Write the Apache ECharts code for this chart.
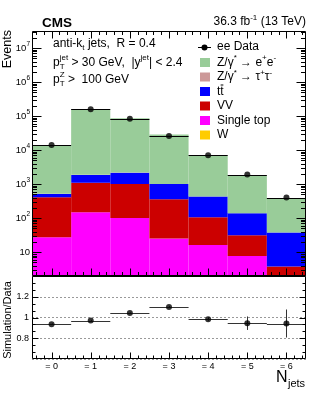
<!DOCTYPE html>
<html><head><meta charset="utf-8">
<script src="https://cdn.jsdelivr.net/npm/echarts@6/dist/echarts.min.js"></script>
<style>html,body{margin:0;padding:0;background:#fff}#c{width:316px;height:395px}</style>
</head><body><div id="c"></div>
<script>
// ---------------- data ----------------
const nJets = [0, 1, 2, 3, 4, 5, 6];
const xTickLabels = ['= 0', '= 1', '= 2', '= 3', '= 4', '= 5', '= 6'];
const dataEE = [14100, 159700, 83000, 26100, 7060, 1910, 404];
const zee = [12680, 153100, 84300, 27700, 6520, 1660, 342];
const ztautau = [5, 15, 12, 5, 2, 0.7, 0.2];
const ttbar = [103, 753, 1165, 650, 323, 108, 34];
const vv = [385, 957, 913, 335, 91, 23.8, 2.75];
const singleTop = [27, 149, 101, 25, 16, 7.7, 1.0];
const wjets = [0.3, 1.2, 1.0, 0.5, 0.2, 0.1, 0.05];
const ratio = [0.936, 0.971, 1.043, 1.101, 0.984, 0.945, 0.942];
const ratioErr = [0.006, 0.004, 0.005, 0.008, 0.015, 0.065, 0.135];

// ---------------- setup ----------------
const FONT = '"Liberation Sans", Arial, Helvetica, sans-serif';
const YMIN = 2, YMAX = Math.pow(10, 7.5);
const RMIN = 0.6, RMAX = 1.4;
const XMIN = -0.5, XMAX = 6.5;

const stackDefs = [
  {name: 'W', vals: wjets, color: '#ffcc00'},
  {name: 'Single top', vals: singleTop, color: '#ff00ff'},
  {name: 'VV', vals: vv, color: '#cc0000'},
  {name: 'ttbar', vals: ttbar, color: '#0000ff'},
  {name: 'Ztautau', vals: ztautau, color: '#cc9999'},
  {name: 'Zee', vals: zee, color: '#99cc99'}
];

const cum = nJets.map(() => 0);
const barSeries = stackDefs.map(def => {
  const d = nJets.map((x, i) => {
    const lo = cum[i];
    cum[i] += def.vals[i];
    return [x, lo, cum[i]];
  });
  return {
    type: 'custom', name: def.name, xAxisIndex: 0, yAxisIndex: 0, z: 2,
    itemStyle: {color: def.color},
    data: d, clip: true,
    renderItem: function (params, api) {
      const x = api.value(0);
      const lo = Math.max(api.value(1), YMIN);
      const hi = Math.min(api.value(2), YMAX);
      if (hi <= YMIN) return null;
      const p0 = api.coord([x - 0.5, lo]);
      const p1 = api.coord([x + 0.5, hi]);
      return {type: 'rect', shape: {x: p0[0], y: p1[1], width: p1[0] - p0[0], height: p0[1] - p1[1]},
        style: {fill: api.visual('color')}};
    }
  };
});

function hBarRender(params, api) {
  const x = api.value(0), y = api.value(1);
  const a = api.coord([x - 0.5, y]), b = api.coord([x + 0.5, y]);
  const py = Math.round(a[1]) + 0.5;
  return {type: 'line', shape: {x1: a[0], y1: py, x2: b[0], y2: py}, style: {stroke: '#000', lineWidth: 1}};
}

function errRender(params, api) {
  const x = api.value(0), y = api.value(1), e = api.value(2);
  const a = api.coord([x - 0.5, y]), b = api.coord([x + 0.5, y]);
  const t = api.coord([x, y + e]), bt = api.coord([x, y - e]);
  const py = Math.round(a[1]) + 0.5, px = Math.round(t[0]) + 0.5;
  return {type: 'group', children: [
    {type: 'line', shape: {x1: a[0], y1: py, x2: b[0], y2: py}, style: {stroke: '#333', lineWidth: 1}},
    {type: 'line', shape: {x1: px, y1: t[1], x2: px, y2: bt[1]}, style: {stroke: '#333', lineWidth: 1}}
  ]};
}

function makeTickRender(cfg) {
  return function (params, api) {
    const ch = [];
    const L = (x1, y1, x2, y2) => ch.push({type: 'line', shape: {x1, y1, x2, y2}, style: {stroke: '#000', lineWidth: 1}});
    const bl = api.coord([cfg.x0, cfg.y0]), tr = api.coord([cfg.x1, cfg.y1]);
    const left = Math.round(bl[0]) + 0.5, right = Math.round(tr[0]) - 0.5;
    const bottom = Math.round(bl[1]) - 0.5, top = Math.round(tr[1]) + 0.5;
    L(left, top, right, top); L(right, top, right, bottom); L(right, bottom, left, bottom); L(left, bottom, left, top);
    cfg.xTicks.forEach(([v, len]) => {
      const px = Math.round(api.coord([v, cfg.y0])[0]) + 0.5;
      L(px, bottom, px, bottom - len);
      if (cfg.top) L(px, top, px, top + len);
    });
    cfg.yTicks.forEach(([v, len]) => {
      const py = Math.round(api.coord([cfg.x0, v])[1]) + 0.5;
      L(left, py, left + len, py);
      if (cfg.right) L(right, py, right - len, py);
    });
    return {type: 'group', children: ch};
  };
}

const xTicksMain = [], xTicksLow = [];
for (let k = -2; k <= 32; k++) {
  const v = k / 5;
  xTicksMain.push([v, k % 5 === 0 ? 7 : 3.5]);
  xTicksLow.push([v, k % 5 === 0 ? 6 : 3]);
}
const yTicksMain = [];
for (let n = 0; n <= 7; n++) for (let m = 1; m <= 9; m++) {
  const v = m * Math.pow(10, n);
  if (v > YMIN * 1.0001 && v < YMAX) yTicksMain.push([v, m === 1 ? 9 : 4.5]);
}
const yTicksLow = [];
for (let k = 1; k < 12; k++) yTicksLow.push([RMIN + k * 0.2 / 3, k % 3 === 0 ? 6 : 3]);

// ---------------- text helpers ----------------
const mctx = document.createElement('canvas').getContext('2d');
function tw(t, s, w) { mctx.font = (w || 'normal') + ' ' + s + 'px ' + FONT; return mctx.measureText(t).width; }
function txt(x, y, t, s, opts) {
  opts = opts || {};
  return {type: 'text', x: x, y: y, rotation: opts.rot || 0, silent: true, z: 20,
    style: {text: t, font: (opts.w || 'normal') + ' ' + s + 'px ' + FONT, fill: '#000',
      align: opts.align || 'left', verticalAlign: 'middle', textAlign: opts.align || 'left', textVerticalAlign: 'middle'}};
}
function richLine(x, y, pieces, align) {
  let cx = 0, lastX = 0, lastW = 0; const out = [];
  pieces.forEach(p => {
    const w = tw(p.t, p.s);
    let px;
    if (p.stack) { px = lastX; const adv = Math.max(lastW, w); cx = lastX + adv; lastW = adv; }
    else { px = cx; cx += w; lastX = px; lastW = w; }
    out.push({t: p.t, s: p.s, x: px, dy: p.dy || 0});
  });
  const off = align === 'right' ? x - cx : x;
  return out.map(o => txt(off + o.x, y + o.dy, o.t, o.s));
}
const SUP = -4.5, SUB = 3.5;

const graphics = [];
graphics.push(txt(42, 23, 'CMS', 13.5, {w: 'bold'}));
richLine(306, 22, [{t: '36.3 fb', s: 12}, {t: '-1', s: 8, dy: SUP}, {t: ' (13 TeV)', s: 12}], 'right').forEach(g => graphics.push(g));
richLine(53, 44, [{t: 'anti-k', s: 12}, {t: 't', s: 8, dy: SUB}, {t: ' jets,  R = 0.4', s: 12}]).forEach(g => graphics.push(g));
richLine(53, 63, [{t: 'p', s: 12}, {t: 'T', s: 8, dy: SUB + 0.5}, {t: 'jet', s: 8, dy: SUP - 0.5, stack: true},
  {t: ' > 30 GeV,  |y', s: 12}, {t: 'jet', s: 8, dy: SUP - 0.5}, {t: '| < 2.4', s: 12}]).forEach(g => graphics.push(g));
richLine(53, 80, [{t: 'p', s: 12}, {t: 'T', s: 8, dy: SUB + 0.5}, {t: 'Z', s: 8, dy: SUP - 0.5, stack: true},
  {t: ' >  100 GeV', s: 12}]).forEach(g => graphics.push(g));

// axis titles
graphics.push(txt(8, 30, 'Events', 12.5, {rot: Math.PI / 2, align: 'right'}));
graphics.push(txt(8, 320, 'Simulation/Data', 11, {rot: Math.PI / 2, align: 'center'}));
graphics.push(txt(276, 378, 'N', 16));
graphics.push(txt(288, 384, 'jets', 11));

// legend
const LX = 200, LT = 217;
const rows = [47, 62.5, 77, 91.5, 106, 120.5, 135];
graphics.push({type: 'line', z: 20, shape: {x1: 198, y1: rows[0] + 0.5, x2: 211, y2: rows[0] + 0.5}, style: {stroke: '#000', lineWidth: 1}});
graphics.push({type: 'circle', z: 21, shape: {cx: 204.5, cy: rows[0] + 0.5, r: 3}, style: {fill: '#000'}});
graphics.push(txt(LT, rows[0], 'ee Data', 12));
const legBoxes = [['#99cc99', 1], ['#cc9999', 2], ['#0000ff', 3], ['#cc0000', 4], ['#ff00ff', 5], ['#ffcc00', 6]];
legBoxes.forEach(([c, r]) => graphics.push({type: 'rect', z: 20, shape: {x: LX, y: rows[r] - 4.5, width: 10, height: 9}, style: {fill: c}}));
richLine(LT, rows[1], [{t: 'Z/\u03b3', s: 12}, {t: '*', s: 8, dy: SUP}, {t: ' \u2192 e', s: 12}, {t: '+', s: 8, dy: SUP}, {t: 'e', s: 12}, {t: '-', s: 8, dy: SUP}]).forEach(g => graphics.push(g));
richLine(LT, rows[2], [{t: 'Z/\u03b3', s: 12}, {t: '*', s: 8, dy: SUP}, {t: ' \u2192 \u03c4', s: 12}, {t: '+', s: 8, dy: SUP}, {t: '\u03c4', s: 12}, {t: '-', s: 8, dy: SUP}]).forEach(g => graphics.push(g));
graphics.push(txt(LT, rows[3], 'tt', 12));
(function () {
  const w1 = tw('t', 12), w2 = tw('tt', 12);
  graphics.push({type: 'line', z: 20, shape: {x1: LT + w1 + 0.3, y1: rows[3] - 6.5, x2: LT + w2 - 0.3, y2: rows[3] - 6.5}, style: {stroke: '#000', lineWidth: 1}});
})();
graphics.push(txt(LT, rows[4], 'VV', 12));
graphics.push(txt(LT, rows[5], 'Single top', 12));
graphics.push(txt(LT, rows[6], 'W', 12));

// ---------------- chart ----------------
const chart = echarts.init(document.getElementById('c'), null, {renderer: 'canvas'});
const option = {
  animation: false,
  backgroundColor: '#fff',
  grid: [
    {left: 32, top: 31, width: 274, height: 245},
    {left: 32, top: 276, width: 274, height: 83}
  ],
  xAxis: [
    {type: 'value', gridIndex: 0, min: XMIN, max: XMAX, splitNumber: 7,
      axisLine: {show: false}, axisTick: {show: false}, axisLabel: {show: false}, splitLine: {show: false}},
    {type: 'value', gridIndex: 1, min: XMIN, max: XMAX, splitNumber: 7,
      axisLine: {show: false}, axisTick: {show: false}, splitLine: {show: false},
      axisLabel: {show: true, fontSize: 9, color: '#000', fontFamily: FONT, margin: 3,
        formatter: v => (Math.abs(v - Math.round(v)) < 1e-6 && Math.round(v) >= 0 && Math.round(v) < xTickLabels.length) ? xTickLabels[Math.round(v)] : ''}}
  ],
  yAxis: [
    {type: 'log', logBase: 10, gridIndex: 0, min: YMIN, max: YMAX, splitNumber: 8,
      axisLine: {show: false}, axisTick: {show: false}, splitLine: {show: false},
      axisLabel: {show: true, fontSize: 9.5, color: '#000', fontFamily: FONT, margin: 2, lineHeight: 14,
        formatter: v => {
          const l = Math.log10(v), e = Math.round(l);
          if (Math.abs(l - e) > 1e-6) return '';
          if (e === 1) return '10';
          return '10{sup|' + e + '}';
        },
        rich: {sup: {fontSize: 6.5, lineHeight: 7, verticalAlign: 'top', fontFamily: FONT, color: '#000'}}}},
    {type: 'value', gridIndex: 1, min: RMIN, max: RMAX, interval: 0.2,
      axisLine: {show: false}, axisTick: {show: false},
      splitLine: {show: true, lineStyle: {color: '#999', type: [2, 2], width: 1}},
      axisLabel: {show: true, fontSize: 9, color: '#000', fontFamily: FONT, margin: 3,
        formatter: v => (Math.abs(v - RMIN) < 1e-6 || Math.abs(v - RMAX) < 1e-6) ? '' : String(+v.toFixed(1))}}
  ],
  series: [
    ...barSeries,
    {type: 'custom', name: 'dataBars', xAxisIndex: 0, yAxisIndex: 0, z: 5, clip: true,
      data: nJets.map((x, i) => [x, dataEE[i]]), renderItem: hBarRender},
    {type: 'scatter', name: 'ee Data', xAxisIndex: 0, yAxisIndex: 0, z: 6, symbolSize: 6,
      itemStyle: {color: '#000'}, data: nJets.map((x, i) => [x, dataEE[i]])},
    {type: 'custom', name: 'ratioErr', xAxisIndex: 1, yAxisIndex: 1, z: 5, clip: true,
      data: nJets.map((x, i) => [x, ratio[i], ratioErr[i]]), renderItem: errRender},
    {type: 'scatter', name: 'ratio', xAxisIndex: 1, yAxisIndex: 1, z: 6, symbolSize: 6,
      itemStyle: {color: '#000'}, data: nJets.map((x, i) => [x, ratio[i]])},
    {type: 'custom', name: 'ticksMain', xAxisIndex: 0, yAxisIndex: 0, z: 10, clip: false, silent: true,
      data: [[0, 10]],
      renderItem: makeTickRender({x0: XMIN, x1: XMAX, y0: YMIN, y1: YMAX, xTicks: xTicksMain, yTicks: yTicksMain, top: true, right: true})},
    {type: 'custom', name: 'ticksLow', xAxisIndex: 1, yAxisIndex: 1, z: 10, clip: false, silent: true,
      data: [[0, 1]],
      renderItem: makeTickRender({x0: XMIN, x1: XMAX, y0: RMIN, y1: RMAX, xTicks: xTicksLow, yTicks: yTicksLow, top: false, right: true})}
  ],
  graphic: {elements: graphics}
};
chart.setOption(option);
</script></body></html>
